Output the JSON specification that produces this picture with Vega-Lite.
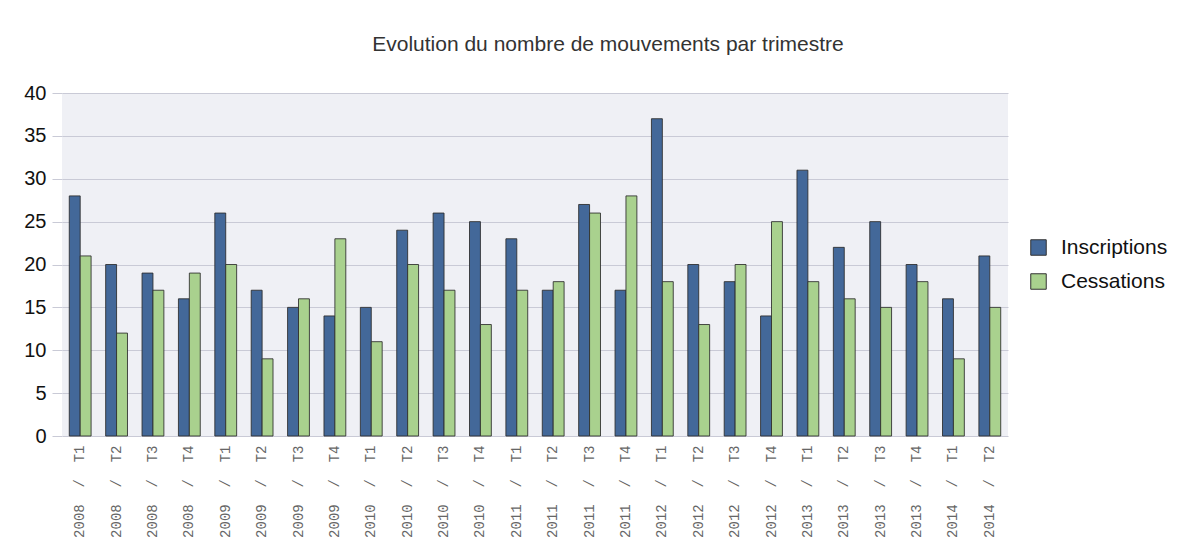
{
  "$schema": "https://vega.github.io/schema/vega-lite/v6.json",
  "autosize": "none",
  "width": 946,
  "height": 343,
  "padding": {"left": 62, "top": 93, "right": 183, "bottom": 102},
  "background": "white",
  "title": {
    "text": "Evolution du nombre de mouvements par trimestre",
    "anchor": "middle",
    "frame": "group",
    "dx": 73,
    "offset": 28,
    "font": "Liberation Sans",
    "fontSize": 21,
    "fontWeight": "normal",
    "color": "#333333"
  },
  "config": {
    "view": {"fill": "#EFF0F5", "stroke": null},
    "font": "Liberation Sans"
  },
  "data": {
    "values": [
      {"periode": "2008\u00a0\u00a0/\u00a0\u00a0T1", "serie": "Inscriptions", "valeur": 28},
      {"periode": "2008\u00a0\u00a0/\u00a0\u00a0T1", "serie": "Cessations", "valeur": 21},
      {"periode": "2008\u00a0\u00a0/\u00a0\u00a0T2", "serie": "Inscriptions", "valeur": 20},
      {"periode": "2008\u00a0\u00a0/\u00a0\u00a0T2", "serie": "Cessations", "valeur": 12},
      {"periode": "2008\u00a0\u00a0/\u00a0\u00a0T3", "serie": "Inscriptions", "valeur": 19},
      {"periode": "2008\u00a0\u00a0/\u00a0\u00a0T3", "serie": "Cessations", "valeur": 17},
      {"periode": "2008\u00a0\u00a0/\u00a0\u00a0T4", "serie": "Inscriptions", "valeur": 16},
      {"periode": "2008\u00a0\u00a0/\u00a0\u00a0T4", "serie": "Cessations", "valeur": 19},
      {"periode": "2009\u00a0\u00a0/\u00a0\u00a0T1", "serie": "Inscriptions", "valeur": 26},
      {"periode": "2009\u00a0\u00a0/\u00a0\u00a0T1", "serie": "Cessations", "valeur": 20},
      {"periode": "2009\u00a0\u00a0/\u00a0\u00a0T2", "serie": "Inscriptions", "valeur": 17},
      {"periode": "2009\u00a0\u00a0/\u00a0\u00a0T2", "serie": "Cessations", "valeur": 9},
      {"periode": "2009\u00a0\u00a0/\u00a0\u00a0T3", "serie": "Inscriptions", "valeur": 15},
      {"periode": "2009\u00a0\u00a0/\u00a0\u00a0T3", "serie": "Cessations", "valeur": 16},
      {"periode": "2009\u00a0\u00a0/\u00a0\u00a0T4", "serie": "Inscriptions", "valeur": 14},
      {"periode": "2009\u00a0\u00a0/\u00a0\u00a0T4", "serie": "Cessations", "valeur": 23},
      {"periode": "2010\u00a0\u00a0/\u00a0\u00a0T1", "serie": "Inscriptions", "valeur": 15},
      {"periode": "2010\u00a0\u00a0/\u00a0\u00a0T1", "serie": "Cessations", "valeur": 11},
      {"periode": "2010\u00a0\u00a0/\u00a0\u00a0T2", "serie": "Inscriptions", "valeur": 24},
      {"periode": "2010\u00a0\u00a0/\u00a0\u00a0T2", "serie": "Cessations", "valeur": 20},
      {"periode": "2010\u00a0\u00a0/\u00a0\u00a0T3", "serie": "Inscriptions", "valeur": 26},
      {"periode": "2010\u00a0\u00a0/\u00a0\u00a0T3", "serie": "Cessations", "valeur": 17},
      {"periode": "2010\u00a0\u00a0/\u00a0\u00a0T4", "serie": "Inscriptions", "valeur": 25},
      {"periode": "2010\u00a0\u00a0/\u00a0\u00a0T4", "serie": "Cessations", "valeur": 13},
      {"periode": "2011\u00a0\u00a0/\u00a0\u00a0T1", "serie": "Inscriptions", "valeur": 23},
      {"periode": "2011\u00a0\u00a0/\u00a0\u00a0T1", "serie": "Cessations", "valeur": 17},
      {"periode": "2011\u00a0\u00a0/\u00a0\u00a0T2", "serie": "Inscriptions", "valeur": 17},
      {"periode": "2011\u00a0\u00a0/\u00a0\u00a0T2", "serie": "Cessations", "valeur": 18},
      {"periode": "2011\u00a0\u00a0/\u00a0\u00a0T3", "serie": "Inscriptions", "valeur": 27},
      {"periode": "2011\u00a0\u00a0/\u00a0\u00a0T3", "serie": "Cessations", "valeur": 26},
      {"periode": "2011\u00a0\u00a0/\u00a0\u00a0T4", "serie": "Inscriptions", "valeur": 17},
      {"periode": "2011\u00a0\u00a0/\u00a0\u00a0T4", "serie": "Cessations", "valeur": 28},
      {"periode": "2012\u00a0\u00a0/\u00a0\u00a0T1", "serie": "Inscriptions", "valeur": 37},
      {"periode": "2012\u00a0\u00a0/\u00a0\u00a0T1", "serie": "Cessations", "valeur": 18},
      {"periode": "2012\u00a0\u00a0/\u00a0\u00a0T2", "serie": "Inscriptions", "valeur": 20},
      {"periode": "2012\u00a0\u00a0/\u00a0\u00a0T2", "serie": "Cessations", "valeur": 13},
      {"periode": "2012\u00a0\u00a0/\u00a0\u00a0T3", "serie": "Inscriptions", "valeur": 18},
      {"periode": "2012\u00a0\u00a0/\u00a0\u00a0T3", "serie": "Cessations", "valeur": 20},
      {"periode": "2012\u00a0\u00a0/\u00a0\u00a0T4", "serie": "Inscriptions", "valeur": 14},
      {"periode": "2012\u00a0\u00a0/\u00a0\u00a0T4", "serie": "Cessations", "valeur": 25},
      {"periode": "2013\u00a0\u00a0/\u00a0\u00a0T1", "serie": "Inscriptions", "valeur": 31},
      {"periode": "2013\u00a0\u00a0/\u00a0\u00a0T1", "serie": "Cessations", "valeur": 18},
      {"periode": "2013\u00a0\u00a0/\u00a0\u00a0T2", "serie": "Inscriptions", "valeur": 22},
      {"periode": "2013\u00a0\u00a0/\u00a0\u00a0T2", "serie": "Cessations", "valeur": 16},
      {"periode": "2013\u00a0\u00a0/\u00a0\u00a0T3", "serie": "Inscriptions", "valeur": 25},
      {"periode": "2013\u00a0\u00a0/\u00a0\u00a0T3", "serie": "Cessations", "valeur": 15},
      {"periode": "2013\u00a0\u00a0/\u00a0\u00a0T4", "serie": "Inscriptions", "valeur": 20},
      {"periode": "2013\u00a0\u00a0/\u00a0\u00a0T4", "serie": "Cessations", "valeur": 18},
      {"periode": "2014\u00a0\u00a0/\u00a0\u00a0T1", "serie": "Inscriptions", "valeur": 16},
      {"periode": "2014\u00a0\u00a0/\u00a0\u00a0T1", "serie": "Cessations", "valeur": 9},
      {"periode": "2014\u00a0\u00a0/\u00a0\u00a0T2", "serie": "Inscriptions", "valeur": 21},
      {"periode": "2014\u00a0\u00a0/\u00a0\u00a0T2", "serie": "Cessations", "valeur": 15}
    ]
  },
  "mark": {"type": "bar", "stroke": "#2b2b2b", "strokeWidth": 1, "strokeOpacity": 0.85},
  "encoding": {
    "x": {
      "field": "periode",
      "type": "nominal",
      "sort": null,
      "scale": {"paddingInner": 0.4, "paddingOuter": 0.2},
      "axis": {
        "title": null,
        "labelAngle": -90,
        "labelAlign": "right",
        "labelBaseline": "middle",
        "labelFont": "Liberation Mono",
        "labelFontSize": 14,
        "labelColor": "#666666",
        "labelPadding": 9,
        "labelLimit": 0,
        "ticks": false,
        "domain": false
      }
    },
    "xOffset": {
      "field": "serie",
      "type": "nominal",
      "sort": ["Inscriptions", "Cessations"],
      "scale": {"paddingInner": 0, "paddingOuter": 0}
    },
    "y": {
      "field": "valeur",
      "type": "quantitative",
      "scale": {"domain": [0, 40], "nice": false},
      "axis": {
        "title": null,
        "values": [0, 5, 10, 15, 20, 25, 30, 35, 40],
        "grid": true,
        "gridColor": "#C9CAD6",
        "gridWidth": 1.2,
        "tickColor": "#C9CAD6",
        "tickSize": 10,
        "domain": false,
        "labelFont": "Liberation Sans",
        "labelFontSize": 20,
        "labelColor": "#111111",
        "labelPadding": 6
      }
    },
    "color": {
      "field": "serie",
      "type": "nominal",
      "sort": ["Inscriptions", "Cessations"],
      "scale": {"domain": ["Inscriptions", "Cessations"], "range": ["#436899", "#A9D18E"]},
      "legend": {
        "title": null,
        "orient": "none",
        "legendX": 966,
        "legendY": 144,
        "symbolType": "square",
        "symbolSize": 240,
        "symbolStrokeColor": "#333333",
        "symbolStrokeWidth": 1,
        "labelFont": "Liberation Sans",
        "labelFontSize": 21,
        "labelColor": "#111111",
        "rowPadding": 12,
        "labelOffset": 12
      }
    }
  }
}
